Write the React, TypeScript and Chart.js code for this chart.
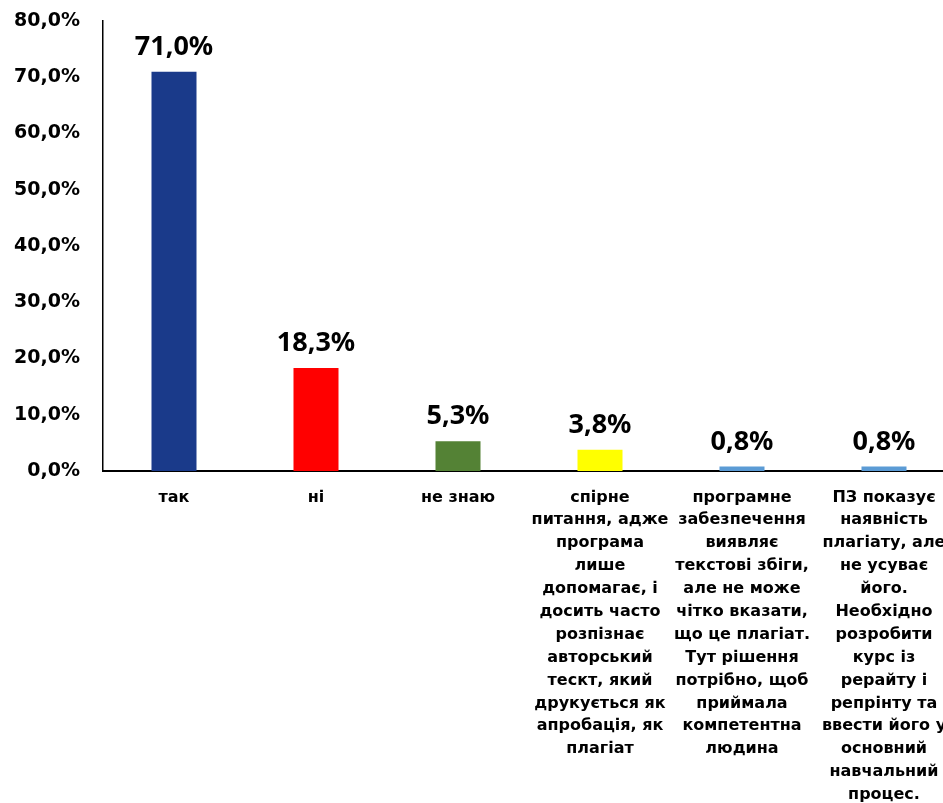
import React, { useEffect, useRef } from "react";
import { Chart, registerables } from "chart.js";

Chart.register(...registerables);

const categories: string[][] = [
  ["так"],
  ["ні"],
  ["не знаю"],
  ["спірне", "питання, адже", "програма", "лише", "допомагає, і", "досить часто", "розпізнає", "авторський", "тескт, який", "друкується як", "апробація, як", "плагіат"],
  ["програмне", "забезпечення", "виявляє", "текстові збіги,", "але не може", "чітко вказати,", "що це плагіат.", "Тут рішення", "потрібно, щоб", "приймала", "компетентна", "людина"],
  ["ПЗ показує", "наявність", "плагіату, але", "не усуває", "його.", "Необхідно", "розробити", "курс із", "рерайту і", "репрінту та", "ввести його у", "основний", "навчальний", "процес."],
];

const values: number[] = [71.0, 18.3, 5.3, 3.8, 0.8, 0.8];

const barColors: string[] = ["#1A3A8A", "#FF0000", "#548235", "#FFFF00", "#5B9BD5", "#5B9BD5"];

const fmt = (v: number) => `${v.toFixed(1).replace(".", ",")}%`;

const valueLabels = {
  id: "valueLabels",
  afterDatasetsDraw(chart: any) {
    const ctx = chart.ctx;
    const meta = chart.getDatasetMeta(0);
    ctx.save();
    ctx.font = "bold 27px 'Noto Sans'";
    ctx.fillStyle = "#000000";
    ctx.textAlign = "center";
    ctx.textBaseline = "alphabetic";
    meta.data.forEach((bar: any, i: number) => {
      ctx.fillText(fmt(values[i]), bar.x, bar.y - 17);
    });
    ctx.restore();
  },
};

export default function App() {
  const ref = useRef<HTMLCanvasElement | null>(null);

  useEffect(() => {
    if (!ref.current) return;
    const chart = new Chart(ref.current, {
      type: "bar",
      data: {
        labels: categories,
        datasets: [
          {
            data: values,
            backgroundColor: barColors,
            categoryPercentage: 1,
            barPercentage: 0.317,
          },
        ],
      },
      options: {
        responsive: false,
        animation: false,
        layout: { padding: { top: 21, left: 0, right: 0, bottom: 0 } },
        plugins: {
          legend: { display: false },
          tooltip: { enabled: false },
        },
        scales: {
          x: {
            grid: { display: false, drawTicks: false },
            border: { display: true, color: "#000000", width: 2 },
            ticks: {
              color: "#000000",
              font: { family: "'DejaVu Sans'", weight: "bold", size: 16, lineHeight: 1.43 },
              padding: 15,
              maxRotation: 0,
              minRotation: 0,
              autoSkip: false,
            },
            afterFit(scale: any) {
              scale.height = 332;
              scale.paddingLeft = 0;
              scale.paddingRight = 0;
            },
          },
          y: {
            min: 0,
            max: 80,
            grid: { display: false, drawTicks: false },
            border: { display: true, color: "#000000", width: 1.5 },
            ticks: {
              stepSize: 10,
              color: "#000000",
              font: { family: "'DejaVu Sans'", weight: "bold", size: 19 },
              padding: 23,
              callback: (v: any) => fmt(Number(v)),
            },
            afterFit(scale: any) {
              scale.width = 103;
              scale.paddingTop = 0;
              scale.paddingBottom = 0;
            },
          },
        },
      },
      plugins: [valueLabels],
    });
    return () => chart.destroy();
  }, []);

  return (
    <div style={{ position: "fixed", left: 0, top: 0, width: 943, height: 803, overflow: "hidden", background: "#ffffff" }}>
      <canvas ref={ref} width={955} height={803} style={{ display: "block" }} />
    </div>
  );
}
